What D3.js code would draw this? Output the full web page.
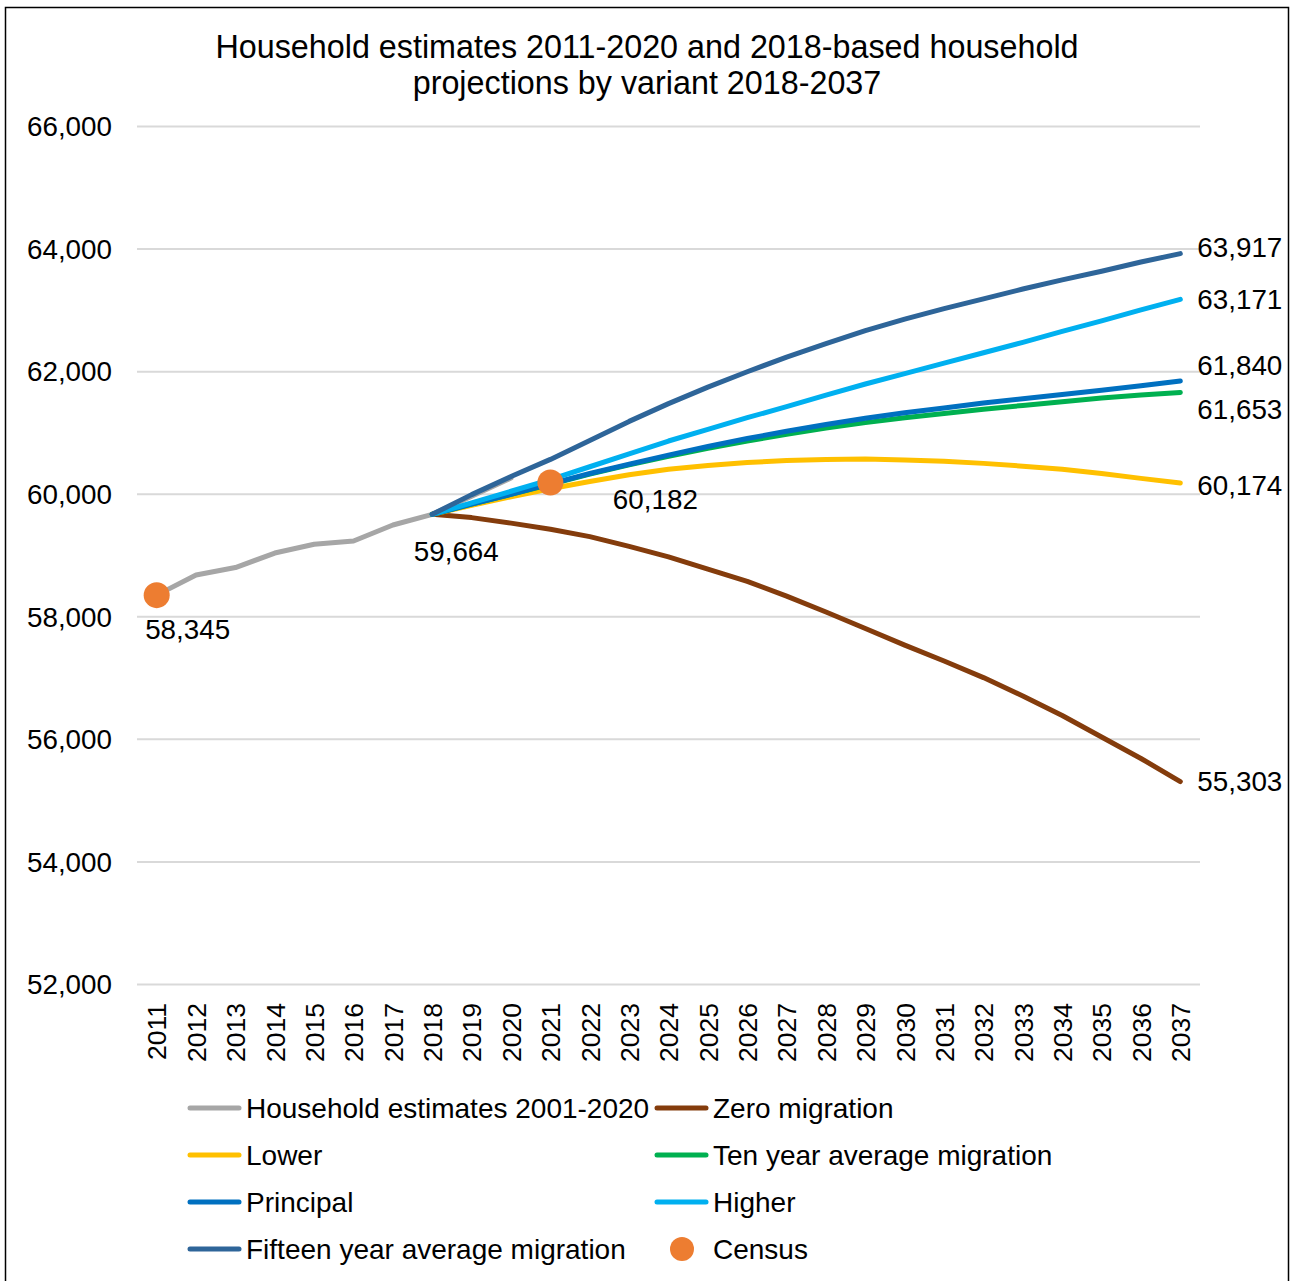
<!DOCTYPE html>
<html><head><meta charset="utf-8">
<script src="https://cdn.jsdelivr.net/npm/d3@7"></script>
<style>body{margin:0;background:#fff;} svg{display:block;font-family:"Liberation Sans",Arial,sans-serif;}</style>
</head><body>
<script>
const years = d3.range(2011, 2038).map(String);
const yTicks = [52000,54000,56000,58000,60000,62000,64000,66000];
const titleLines = ["Household estimates 2011-2020 and 2018-based household","projections by variant 2018-2037"];

const estYears = ["2011","2012","2013","2014","2015","2016","2017","2018","2019","2020"];
const estimates = [58345,58673,58795,59032,59175,59228,59489,59664,59960,60256];

const projYears = d3.range(2018, 2038).map(String);
const zeroMigration = [59664,59610,59520,59420,59300,59140,58970,58770,58570,58330,58070,57800,57530,57270,57000,56700,56380,56030,55680,55303];
const lower = [59664,59810,59950,60080,60200,60310,60400,60460,60510,60540,60560,60565,60550,60530,60495,60450,60400,60330,60250,60174];
const tenYear = [59664,59830,59990,60155,60320,60470,60610,60740,60860,60970,61070,61160,61240,61310,61380,61440,61500,61560,61610,61653];
const principal = [59664,59830,59990,60160,60330,60480,60630,60770,60900,61020,61130,61230,61320,61400,61480,61550,61620,61690,61760,61840];
const higher = [59664,59850,60040,60230,60440,60650,60860,61050,61240,61420,61610,61790,61960,62130,62300,62470,62650,62820,63000,63171];
const fifteenYear = [59664,59985,60280,60560,60870,61180,61470,61740,61990,62230,62450,62660,62850,63020,63180,63340,63490,63630,63780,63917];

const censusYears = ["2011","2021"];
const census = [58345,60182];

const seriesNames = ["Household estimates 2001-2020","Zero migration","Lower","Ten year average migration","Principal","Higher","Fifteen year average migration","Census"];
const seriesColors = ["#a6a6a6","#843c0c","#ffc000","#00b050","#0070c0","#00b0f0","#2e6599","#ed7d31"];

const W = 1292, H = 1281;
const svg = d3.select("body").append("svg").attr("width", W).attr("height", H);
svg.append("rect").attr("x",5.5).attr("y",7.5).attr("width",1283).attr("height",1290)
  .attr("fill","#fff").attr("stroke","#000").attr("stroke-width",1.5);

const x = d3.scalePoint().domain(years).range([137,1200]).padding(0.5);
const y = d3.scaleLinear().domain([52000,66000]).range([984,126]);

// title
svg.append("g").selectAll("text").data(titleLines).join("text")
  .attr("x",647).attr("y",(d,i)=>58+i*36).attr("text-anchor","middle")
  .attr("font-size",32.3).attr("fill","#000").text(d=>d);

// gridlines
const yAxis = d3.axisLeft(y).tickValues(yTicks).tickSize(-(1200-137)).tickPadding(25)
  .tickFormat(d3.format(","));
const gy = svg.append("g").attr("transform","translate(137,0)").call(yAxis);
gy.select(".domain").remove();
gy.selectAll(".tick line").attr("stroke","#d9d9d9").attr("stroke-width",2);
gy.selectAll(".tick text").attr("font-size",27.8).attr("fill","#000")
  .attr("font-family","'Liberation Sans',Arial,sans-serif").attr("x",-25).attr("dy","0.35em");

// x axis labels
const xAxis = d3.axisBottom(x).tickSize(0).tickPadding(0);
const gx = svg.append("g").attr("transform","translate(0,1003)").call(xAxis);
gx.select(".domain").remove();
gx.selectAll(".tick text").attr("font-size",26.5).attr("fill","#000")
  .attr("font-family","'Liberation Sans',Arial,sans-serif")
  .attr("transform","rotate(-90)").attr("text-anchor","end")
  .attr("x",0).attr("y",0).attr("dy","0.35em");

const line = d3.line().x(d=>x(d[0])).y(d=>y(d[1])).curve(d3.curveLinear);
const seriesData = [
  [estYears, estimates],
  [projYears, zeroMigration],
  [projYears, lower],
  [projYears, tenYear],
  [projYears, principal],
  [projYears, higher],
  [projYears, fifteenYear]
];
svg.append("g").selectAll("path").data(seriesData).join("path")
  .attr("d",(d)=>line(d[0].map((yr,i)=>[yr,d[1][i]])))
  .attr("fill","none").attr("stroke",(d,i)=>seriesColors[i])
  .attr("stroke-width",5).attr("stroke-linecap","round").attr("stroke-linejoin","round");

// census dots
svg.append("g").selectAll("circle").data(censusYears).join("circle")
  .attr("cx",d=>x(d)).attr("cy",(d,i)=>y(census[i])).attr("r",13).attr("fill",seriesColors[7]);

const fmt = d3.format(",");
// data labels
const pointLabels = [
  {yr:"2011", v:census[0], dx:31, dy:44, anchor:"middle"},
  {yr:"2018", v:estimates[7], dx:24, dy:47, anchor:"middle"},
  {yr:"2021", v:census[1], dx:105, dy:26, anchor:"middle"}
];
svg.append("g").selectAll("text").data(pointLabels).join("text")
  .attr("x",d=>x(d.yr)+d.dx).attr("y",d=>y(d.v)+d.dy).attr("text-anchor",d=>d.anchor)
  .attr("font-size",27.8).attr("fill","#000").text(d=>fmt(d.v));

const endVals = [fifteenYear, higher, principal, tenYear, lower, zeroMigration];
const endOffsets = [-6, 0, -16, 17, 2, 0];
svg.append("g").selectAll("text").data(endVals).join("text")
  .attr("x",x("2037")+17).attr("y",(d,i)=>y(d[d.length-1])+endOffsets[i])
  .attr("dy","0.35em").attr("font-size",27.8).attr("fill","#000")
  .text(d=>fmt(d[d.length-1]));

// legend
const legendOrder = [0,1,2,3,4,5,6,7];
const lg = svg.append("g");
legendOrder.forEach((si,k)=>{
  const col = k%2, row = Math.floor(k/2);
  const lx = col===0 ? 188 : 655;
  const ly = 1108 + row*47;
  if (si===7) {
    lg.append("circle").attr("cx",lx+27).attr("cy",ly).attr("r",12).attr("fill",seriesColors[si]);
  } else {
    lg.append("line").attr("x1",lx+2).attr("x2",lx+51).attr("y1",ly).attr("y2",ly)
      .attr("stroke",seriesColors[si]).attr("stroke-width",5).attr("stroke-linecap","round");
  }
  lg.append("text").attr("x",lx+58).attr("y",ly).attr("dy","0.35em")
    .attr("font-size",28).attr("fill","#000").text(seriesNames[si]);
});
</script>
</body></html>
